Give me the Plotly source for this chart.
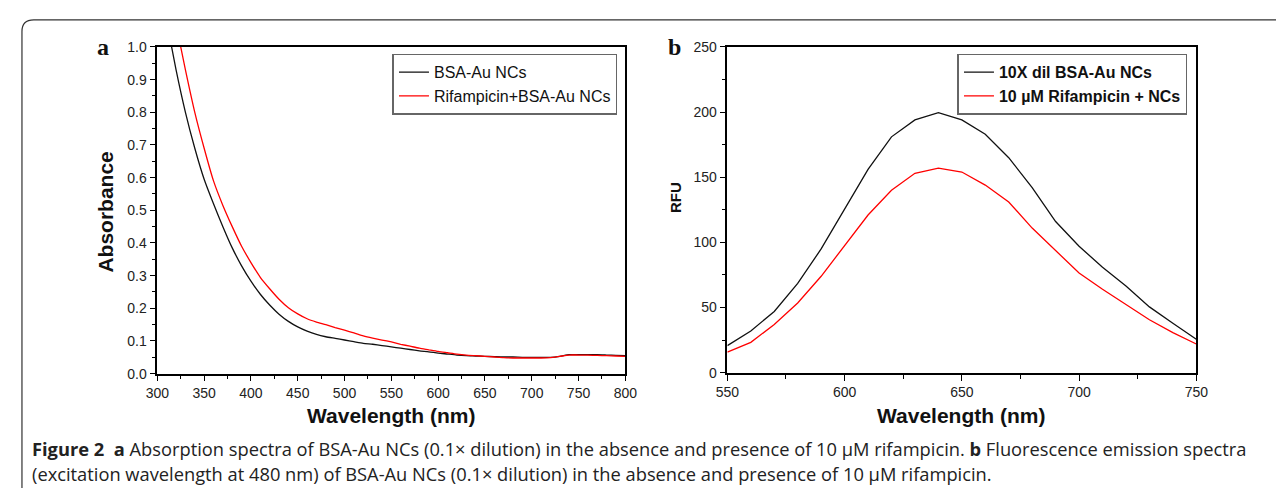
import plotly.graph_objects as go

# the page keeps its default 8px body margin, so the figure is drawn 16px smaller
OFF = 8
W, H = 1284 - 2 * OFF, 496 - 2 * OFF

# panel a: absorption spectra
abs_wl = [300, 310, 320, 330, 340, 350, 360, 370, 380, 390, 400, 410, 420, 430, 440, 450,
          460, 470, 480, 490, 500, 510, 520, 530, 540, 550, 560, 570, 580, 590, 600, 610, 620,
          630, 640, 650, 660, 670, 680, 690, 700, 710, 720, 730, 740, 750, 760, 770, 780, 790, 800]
abs_bsa = [1.25, 1.08, 0.93, 0.80, 0.69, 0.595, 0.52, 0.45, 0.385, 0.33, 0.283, 0.243, 0.21, 0.182, 0.16, 0.143,
           0.13, 0.12, 0.113, 0.108, 0.103, 0.098, 0.093, 0.09, 0.086, 0.082, 0.078, 0.074, 0.07, 0.067, 0.063, 0.06, 0.057,
           0.055, 0.054, 0.053, 0.052, 0.051, 0.051, 0.05, 0.05, 0.05, 0.05, 0.053, 0.058, 0.058, 0.058, 0.058, 0.057, 0.056, 0.055]
abs_rif = [1.35, 1.21, 1.07, 0.93, 0.80, 0.69, 0.59, 0.515, 0.45, 0.39, 0.34, 0.295, 0.26, 0.228, 0.202, 0.183,
           0.168, 0.158, 0.15, 0.141, 0.133, 0.125, 0.116, 0.109, 0.103, 0.097, 0.09, 0.084, 0.078, 0.073, 0.068, 0.064, 0.06,
           0.057, 0.055, 0.053, 0.051, 0.049, 0.048, 0.048, 0.048, 0.048, 0.049, 0.053, 0.057, 0.057, 0.057, 0.056, 0.055, 0.054, 0.053]

# panel b: fluorescence emission
fl_wl = [550, 560, 570, 580, 590, 600, 610, 620, 630, 640, 650, 660, 670, 680, 690, 700, 710, 720, 730, 740, 750]
fl_bsa = [20.8, 32, 47, 68.5, 95, 126, 156, 181, 194, 199.5, 194, 183, 165, 142, 116, 97, 81, 66.6, 50.5, 38, 25.7]
fl_rif = [15.8, 23.3, 37, 53.5, 74, 97.5, 121, 140, 153, 157, 154, 144, 131, 111, 93.8, 76.5, 64, 52.5, 40.6, 30.7, 22]


# screen pixel -> paper coords
def px(x):
    return (x - OFF) / W


def py(y):
    return 1 - (y - OFF) / H


fig = go.Figure()
fig.add_trace(go.Scatter(x=abs_wl, y=abs_bsa, mode='lines', name='BSA-Au NCs',
                         line=dict(color='#111111', width=1.3, shape='spline', smoothing=0.6),
                         xaxis='x', yaxis='y', legend='legend'))
fig.add_trace(go.Scatter(x=abs_wl, y=abs_rif, mode='lines', name='Rifampicin+BSA-Au NCs',
                         line=dict(color='#ff0000', width=1.3, shape='spline', smoothing=0.6),
                         xaxis='x', yaxis='y', legend='legend'))
fig.add_trace(go.Scatter(x=fl_wl, y=fl_bsa, mode='lines', name='10X dil BSA-Au NCs',
                         line=dict(color='#111111', width=1.3), xaxis='x2', yaxis='y2', legend='legend2'))
fig.add_trace(go.Scatter(x=fl_wl, y=fl_rif, mode='lines', name='10 µM Rifampicin + NCs',
                         line=dict(color='#ff0000', width=1.3), xaxis='x2', yaxis='y2', legend='legend2'))

tickfont = dict(family='Arial, Liberation Sans', size=14, color='#222')
axis_common = dict(showline=True, linecolor='black', linewidth=1.6, mirror=True, ticks='outside',
                   ticklen=6, tickwidth=1.3, tickcolor='black', showgrid=False, zeroline=False,
                   tickfont=tickfont)

fig.update_layout(
    width=W, height=H,
    margin=dict(l=0, r=0, t=0, b=0),
    paper_bgcolor='white', plot_bgcolor='white',
    xaxis=dict(domain=[px(148), px(625)], range=[300, 800], dtick=50, anchor='y',
               minor=dict(ticks='outside', dtick=25, ticklen=4, tickcolor='black'), **axis_common),
    yaxis=dict(domain=[py(378), py(40)], range=[0, 1.0], dtick=0.1, tickformat='.1f', anchor='x',
               minor=dict(ticks='outside', dtick=0.05, ticklen=4, tickcolor='black'), **axis_common),
    xaxis2=dict(domain=[px(729), px(1207)], range=[550, 750], dtick=50, anchor='y2',
                minor=dict(ticks='outside', dtick=25, ticklen=4, tickcolor='black'), **axis_common),
    yaxis2=dict(domain=[py(377), py(40)], range=[0, 250], dtick=50, anchor='x2',
                minor=dict(ticks='outside', dtick=25, ticklen=4, tickcolor='black'), **axis_common),
    legend=dict(x=px(617), y=py(47), xanchor='right', yanchor='top',
                bordercolor='#666', borderwidth=1.5, bgcolor='white',
                font=dict(family='Arial, Liberation Sans', size=16, color='#111'),
                tracegroupgap=0, itemwidth=30),
    legend2=dict(x=px(1198), y=py(47), xanchor='right', yanchor='top',
                 bordercolor='#666', borderwidth=1.5, bgcolor='white',
                 font=dict(family='Arial, Liberation Sans', size=16, color='#111', weight='bold'),
                 tracegroupgap=0, itemwidth=30),
    showlegend=True,
)

# frame with rounded top-left corner
r = 12
fig.add_shape(type='path', xref='paper', yref='paper',
              path=f'M {px(10)} {py(H + 20)} L {px(10)} {py(12 + r)} Q {px(10)} {py(12)} {px(10 + r)} {py(12)} L {px(1290)} {py(12)}',
              line=dict(color='#333', width=1.2))

annos = [
    dict(text='<b>a</b>', x=93, y=40, font=dict(family='Liberation Serif, Times New Roman', size=24)),
    dict(text='<b>b</b>', x=675, y=40, font=dict(family='Liberation Serif, Times New Roman', size=24)),
    dict(text='<b>Absorbance</b>', x=95, y=211, textangle=-90, font=dict(family='Arial, Liberation Sans', size=21)),
    dict(text='<b>RFU</b>', x=676, y=196, textangle=-90, font=dict(family='Arial, Liberation Sans', size=15)),
    dict(text='<b>Wavelength (nm)</b>', x=386, y=421, font=dict(family='Arial, Liberation Sans', size=21)),
    dict(text='<b>Wavelength (nm)</b>', x=967, y=421, font=dict(family='Arial, Liberation Sans', size=21)),
]
for a in annos:
    fig.add_annotation(text=a['text'], x=px(a['x']), y=py(a['y']), xref='paper', yref='paper',
                       showarrow=False, xanchor='center', yanchor='middle',
                       textangle=a.get('textangle', 0), font=dict(color='#111', **a['font']))

cap1 = ('<b>Figure 2</b>  <b>a</b> Absorption spectra of BSA-Au NCs (0.1× dilution) in the absence and presence '
        'of 10 µM rifampicin. <b>b</b> Fluorescence emission spectra')
cap2 = '(excitation wavelength at 480 nm) of BSA-Au NCs (0.1× dilution) in the absence and presence of 10 µM rifampicin.'
for txt, y in [(cap1, 455), (cap2, 481)]:
    fig.add_annotation(text=txt, x=px(18), y=py(y), xref='paper', yref='paper', showarrow=False,
                       xanchor='left', yanchor='middle',
                       font=dict(family='Open Sans, Noto Sans', size=18.3, color='#222'))

fig.write_html("out.html", config={'displayModeBar': False})
